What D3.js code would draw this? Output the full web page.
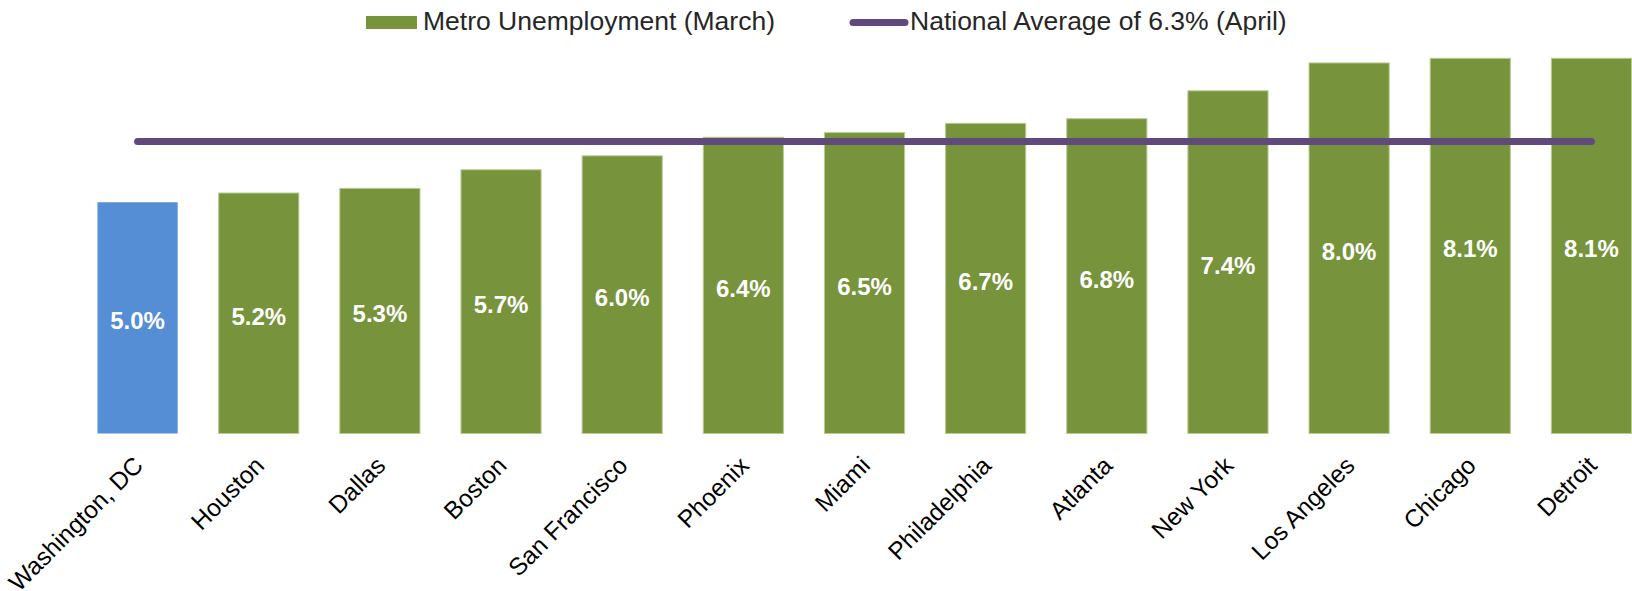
<!DOCTYPE html>
<html>
<head>
<meta charset="utf-8">
<script src="https://cdn.jsdelivr.net/npm/d3@7"></script>
<style>
  html, body { margin: 0; padding: 0; background: #ffffff; }
  svg { display: block; font-family: "Liberation Sans", Arial, sans-serif; }
</style>
</head>
<body>
<svg id="chart" width="1632" height="591"></svg>
<script>
// Metro unemployment rates, March (percent)
const cities = ["Washington, DC", "Houston", "Dallas", "Boston", "San Francisco", "Phoenix",
                "Miami", "Philadelphia", "Atlanta", "New York", "Los Angeles", "Chicago", "Detroit"];
const rates = [5.0, 5.2, 5.3, 5.7, 6.0, 6.4, 6.5, 6.7, 6.8, 7.4, 8.0, 8.1, 8.1];
const highlighted = ["Washington, DC"];
const nationalAverage = 6.3;
const yDomain = [0, 9];
const legendLabels = ["Metro Unemployment (March)", "National Average of 6.3% (April)"];

const colors = { bar: "#77933c", barEdge: "#b9cc92", highlight: "#558ed5", line: "#604a7b", text: "#262626" };

const svg = d3.select("#chart");
const baseline = 434;

const x = d3.scaleBand()
  .domain(cities)
  .range([77, 1652])
  .paddingInner(0.33)
  .paddingOuter(0.165);

const y = d3.scaleLinear()
  .domain(yDomain)
  .range([baseline, 16]);

const data = cities.map((c, i) => ({ city: c, rate: rates[i] }));

// Bars
svg.append("g").selectAll("rect")
  .data(data)
  .join("rect")
  .attr("x", d => x(d.city) + 0.5)
  .attr("y", d => y(d.rate) + 0.5)
  .attr("width", x.bandwidth() - 1)
  .attr("height", d => y(0) - y(d.rate) - 1)
  .attr("fill", d => highlighted.includes(d.city) ? colors.highlight : colors.bar)
  .attr("stroke", d => highlighted.includes(d.city) ? "none" : colors.barEdge)
  .attr("stroke-width", 1);

// National average line across the band centres
const avgLine = d3.line()
  .x(d => x(d) + x.bandwidth() / 2)
  .y(() => y(nationalAverage));

svg.append("path")
  .datum([cities[0], cities[cities.length - 1]])
  .attr("d", avgLine)
  .attr("fill", "none")
  .attr("stroke", colors.line)
  .attr("stroke-width", 7)
  .attr("stroke-linecap", "round");

// Value labels centred in each bar
svg.append("g").selectAll("text")
  .data(data)
  .join("text")
  .attr("x", d => x(d.city) + x.bandwidth() / 2)
  .attr("y", d => (y(d.rate) + y(0)) / 2 + 3)
  .attr("text-anchor", "middle")
  .attr("dominant-baseline", "central")
  .attr("fill", "#ffffff")
  .attr("font-weight", "bold")
  .attr("font-size", 24)
  .text(d => d3.format(".1f")(d.rate) + "%");

// Category axis with rotated labels
const xAxis = d3.axisBottom(x).tickSize(0).tickPadding(0);
const axisG = svg.append("g")
  .attr("transform", `translate(0,${baseline})`)
  .call(xAxis);
axisG.select(".domain").remove();
axisG.selectAll(".tick text")
  .attr("font-family", "\"Liberation Sans\", Arial, sans-serif")
  .attr("font-size", 24.5)
  .attr("fill", "#000000")
  .attr("text-anchor", "end")
  .attr("dy", null)
  .attr("y", 0)
  .attr("transform", "translate(7,33) rotate(-45)");

// Legend
const legend = svg.append("g");
legend.append("rect")
  .attr("x", 366).attr("y", 16)
  .attr("width", 51).attr("height", 13)
  .attr("fill", colors.bar);
legend.append("text")
  .attr("x", 423).attr("y", 30)
  .attr("font-size", 26.5)
  .attr("fill", colors.text)
  .text(legendLabels[0]);
legend.append("line")
  .attr("x1", 853).attr("x2", 905)
  .attr("y1", 22.5).attr("y2", 22.5)
  .attr("stroke", colors.line)
  .attr("stroke-width", 7)
  .attr("stroke-linecap", "round");
legend.append("text")
  .attr("x", 910).attr("y", 30)
  .attr("font-size", 26.5)
  .attr("fill", colors.text)
  .text(legendLabels[1]);
</script>
</body>
</html>
